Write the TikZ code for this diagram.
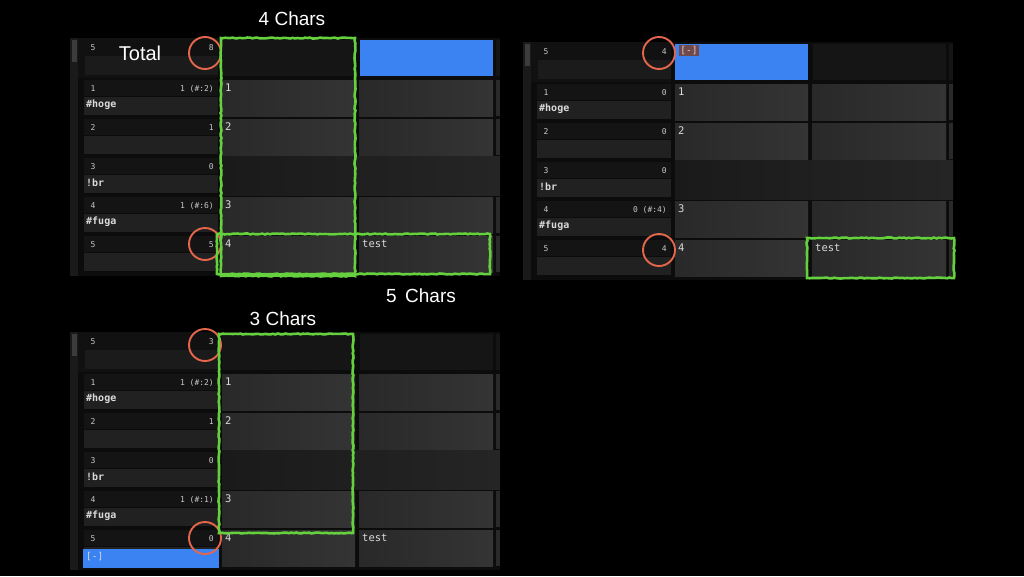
\documentclass[tikz,border=0pt]{standalone}
\usepackage{fontspec}
\setmainfont{Liberation Sans}
\newfontfamily\monof{DejaVu Sans Mono}
\usetikzlibrary{decorations.pathmorphing}
\definecolor{pbg}{HTML}{0C0C0C}
\definecolor{strip}{HTML}{1A1A1A}
\definecolor{knob}{HTML}{3C3C3C}
\definecolor{hdrleft}{HTML}{111111}
\definecolor{hdrband}{HTML}{1B1B1B}
\definecolor{ltop}{HTML}{141414}
\definecolor{lband}{HTML}{212121}
\definecolor{cellA}{HTML}{292929}
\definecolor{cellB}{HTML}{343434}
\definecolor{mergeA}{HTML}{1A1A1A}
\definecolor{mergeB}{HTML}{252525}
\definecolor{hdrdark}{HTML}{151515}
\definecolor{edge}{HTML}{2A2A2A}
\definecolor{uiblue}{HTML}{3B82F3}
\definecolor{numgray}{HTML}{C8C8C8}
\definecolor{labgray}{HTML}{DADADA}
\definecolor{chalkgreen}{HTML}{66D13E}
\definecolor{ringred}{HTML}{E5664B}
\definecolor{tagbg}{HTML}{6E4A4C}
\definecolor{tagfg}{HTML}{E8C8C8}
\tikzset{
  smalltxt/.style={font=\monof\fontsize{8}{8}\selectfont, text=numgray, inner sep=0pt},
  labtxt/.style={font=\monof\bfseries\fontsize{10}{10}\selectfont, text=labgray, inner sep=0pt},
  celltxt/.style={font=\monof\fontsize{10.5}{11}\selectfont, text=labgray, inner sep=0pt},
  chalk/.style={draw=chalkgreen, line width=2.6pt, decorate,
    decoration={random steps, segment length=2.5pt, amplitude=0.5pt}},
  ring/.style={draw=ringred, line width=1.9pt},
  title/.style={font=\fontsize{19}{19}\selectfont, text=white, inner sep=0pt},
  cellfill/.style={left color=cellA, right color=cellB},
  mergefill/.style={left color=mergeA, right color=mergeB},
}
% panel base: background, scrollbar, header left cell
\newcommand{\pBase}[3]{% #1 prefix, #2 header num, #3 header count
  \fill[pbg] (0,0) rectangle (430,238);
  \fill[strip] (0,0) rectangle (8,238);
  \fill[knob] (2,2) rectangle (7,24);
  \fill[hdrleft] (8,0) rectangle (148,40);
  \fill[hdrband] (15,18) rectangle (148,37);
  \fill[hdrdark] (426,2) rectangle (430,38);
  \node[smalltxt] (#1hn) at (23,10) {#2};
  \node[smalltxt, anchor=east] (#1hc) at (144,10) {#3};
}
\newcommand{\pLeft}[5]{% #1 prefix, #2 row, #3 num, #4 count, #5 label
  \pgfmathsetmacro{\rt}{42+39*(#2-1)}%
  \fill[ltop] (14,\rt) rectangle (148,\rt+16);
  \fill[lband] (14,\rt+17) rectangle (148,\rt+35);
  \node[smalltxt] (#1n#2) at (23,\rt+9) {#3};
  \node[smalltxt, anchor=east] (#1c#2) at (144,\rt+9) {#4};
  \node[labtxt, anchor=west] (#1l#2) at (16,\rt+25) {#5};
}
\newcommand{\pMid}[3]{% #1 prefix, #2 row, #3 text
  \pgfmathsetmacro{\rt}{42+39*(#2-1)}%
  \fill[cellfill] (152,\rt) rectangle (285,\rt+36);
  \node[celltxt, anchor=west] (#1m#2) at (155,\rt+8) {#3};
}
\newcommand{\pRight}[3]{% #1 prefix, #2 row, #3 text
  \pgfmathsetmacro{\rt}{42+39*(#2-1)}%
  \fill[cellfill] (289,\rt) rectangle (423,\rt+36);
  \fill[edge] (426,\rt) rectangle (430,\rt+36);
  \node[celltxt, anchor=west] (#1r#2) at (292,\rt+8) {#3};
}
\newcommand{\pMerge}[2]{% #1 prefix, #2 row
  \pgfmathsetmacro{\rt}{42+39*(#2-1)}%
  \fill[mergefill] (152,\rt-2) rectangle (430,\rt+37);
}
\begin{document}
\begin{tikzpicture}[x=1pt,y=-1pt]
\fill[black] (0,0) rectangle (1024,576);
\useasboundingbox (0,0) rectangle (1024,576);

% ---------------- Panel A ----------------
\begin{scope}[shift={(70,38)}]
  \pBase{A}{5}{8}
  \fill[hdrdark] (152,2) rectangle (285,38);
  \fill[uiblue] (290,2) rectangle (423,38);
  \pLeft{A}{1}{1}{1 (\#:2)}{\#hoge}
  \pLeft{A}{2}{2}{1}{}
  \pLeft{A}{3}{3}{0}{!br}
  \pLeft{A}{4}{4}{1 (\#:6)}{\#fuga}
  \pLeft{A}{5}{5}{5}{}
  \pMid{A}{1}{1}\pRight{A}{1}{}
  \pMid{A}{2}{2}\pRight{A}{2}{}
  \pMerge{A}{3}
  \pMid{A}{4}{3}\pRight{A}{4}{}
  \pMid{A}{5}{4}\pRight{A}{5}{test}
  \node[font=\fontsize{20}{20}\selectfont, text=white, inner sep=0pt] (Atotal) at (70,15) {Total};
  \draw[ring] (135,15) circle (16);
  \draw[ring] (135,206) circle (16);
  \draw[chalk] (151,0) rectangle (285,238);
  \draw[chalk] (147,196) rectangle (420,236);
\end{scope}
\node[title] (t4) at (292,19) {4 Chars};

% ---------------- Panel B ----------------
\begin{scope}[shift={(523,42)}]
  \pBase{B}{5}{4}
  \fill[uiblue] (152,2) rectangle (285,38);
  \fill[hdrdark] (290,2) rectangle (423,38);
  \node[fill=tagbg, text=tagfg, font=\monof\fontsize{9.5}{10}\selectfont, inner sep=1.2pt, anchor=north west] (Btag) at (156,3) {[-]};
  \pLeft{B}{1}{1}{0}{\#hoge}
  \pLeft{B}{2}{2}{0}{}
  \pLeft{B}{3}{3}{0}{!br}
  \pLeft{B}{4}{4}{0 (\#:4)}{\#fuga}
  \pLeft{B}{5}{5}{4}{}
  \pMid{B}{1}{1}\pRight{B}{1}{}
  \pMid{B}{2}{2}\pRight{B}{2}{}
  \pMerge{B}{3}
  \pMid{B}{4}{3}\pRight{B}{4}{}
  \pMid{B}{5}{4}\pRight{B}{5}{test}
  \draw[ring] (136,11) circle (16);
  \draw[ring] (136,208) circle (16);
  \draw[chalk] (284,196) rectangle (431,236);
\end{scope}
\node[title] (t5) at (421,296) {5\, Chars};

% ---------------- Panel C ----------------
\begin{scope}[shift={(70,332)}]
  \pBase{C}{5}{3}
  \fill[hdrdark] (152,2) rectangle (285,38);
  \fill[hdrdark] (290,2) rectangle (423,38);
  \pLeft{C}{1}{1}{1 (\#:2)}{\#hoge}
  \pLeft{C}{2}{2}{1}{}
  \pLeft{C}{3}{3}{0}{!br}
  \pLeft{C}{4}{4}{1 (\#:1)}{\#fuga}
  \pLeft{C}{5}{5}{0}{}
  \fill[uiblue] (13,217) rectangle (149,236);
  \node[font=\monof\fontsize{9.5}{10}\selectfont, text=labgray, inner sep=0pt, anchor=west] (Ctag) at (16,225) {[-]};
  \pMid{C}{1}{1}\pRight{C}{1}{}
  \pMid{C}{2}{2}\pRight{C}{2}{}
  \pMerge{C}{3}
  \pMid{C}{4}{3}\pRight{C}{4}{}
  \pMid{C}{5}{4}\pRight{C}{5}{test}
  \draw[ring] (135,13) circle (16);
  \draw[ring] (135,206) circle (16);
  \draw[chalk] (149,2) rectangle (283,201);
\end{scope}
\node[title] (t3) at (283,319) {3 Chars};
\end{tikzpicture}
\end{document}
